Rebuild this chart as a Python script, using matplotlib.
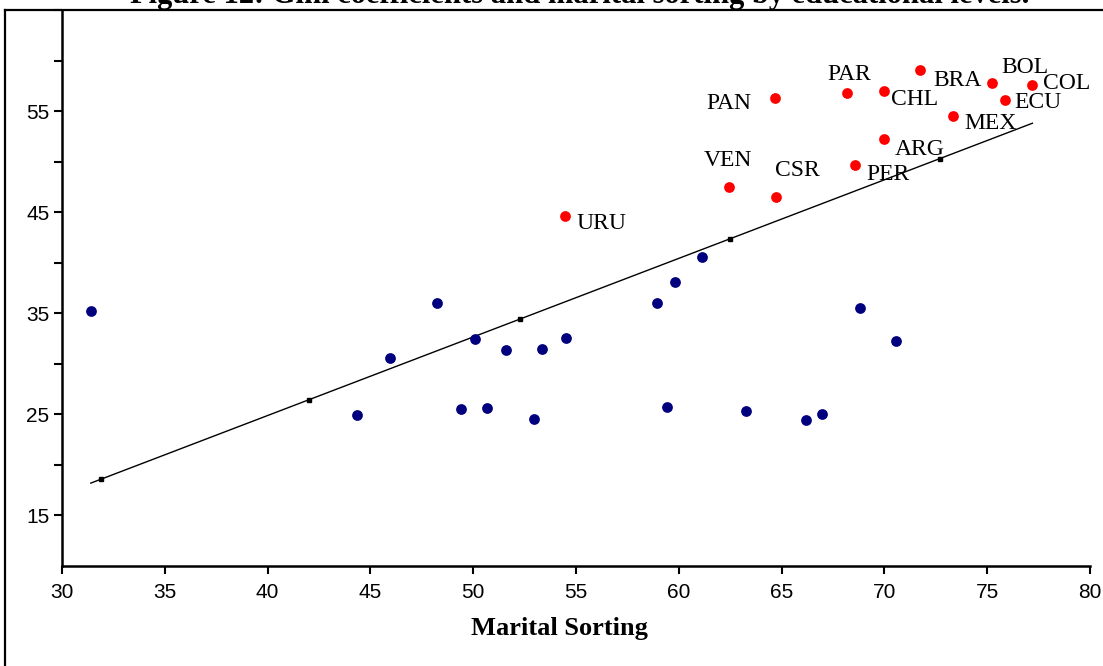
import matplotlib
matplotlib.use("Agg")
import matplotlib.pyplot as plt
from matplotlib.lines import Line2D
import numpy as np

# ---- data ----
blue_x = [31.4, 44.35, 45.95, 48.24, 49.4, 50.1, 50.67, 51.6, 52.96, 53.35, 54.5,
          58.94, 59.43, 59.8, 61.13, 63.27, 66.19, 66.97, 68.8, 70.56]
blue_y = [35.2, 24.9, 30.6, 36.0, 25.5, 32.5, 25.6, 31.4, 24.5, 31.5, 32.6,
          36.0, 25.7, 38.1, 40.6, 25.3, 24.4, 25.0, 35.5, 32.3]

red_names = ["URU", "VEN", "CSR", "PAN", "PAR", "CHL", "ARG", "PER", "BRA", "MEX", "BOL", "COL", "ECU"]
red_x = [54.47, 62.44, 64.73, 64.68, 68.2, 69.98, 69.98, 68.55, 71.75, 73.33, 75.22, 77.18, 75.85]
red_y = [44.6, 47.5, 46.5, 56.3, 56.8, 57.0, 52.2, 49.7, 59.1, 54.5, 57.8, 57.6, 56.1]

fit_x = [31.4, 77.2]
fit_y = [18.2, 53.8]
fit_mark_x = [31.9, 42.0, 52.3, 62.5, 72.7]

x_ticks = [30, 35, 40, 45, 50, 55, 60, 65, 70, 75, 80]
y_ticks = [15, 25, 35, 45, 55]
y_minor = [20, 30, 40, 50, 60, 65]

title = "Figure 12: Gini coefficients and marital sorting by educational levels."
xlabel = "Marital Sorting"

# label offsets (points) relative to each red point
label_off = {
    "URU": (26, -5), "VEN": (-1, 19), "CSR": (15, 19), "PAN": (-33, -4),
    "PAR": (1, 13), "CHL": (22, -6), "ARG": (26, -7), "PER": (24, -7),
    "BRA": (27, -8), "MEX": (27, -5), "BOL": (24, 11), "COL": (25, 1),
    "ECU": (24, -2),
}

W, H = 1103, 666
fig = plt.figure(figsize=(W / 100, H / 100), dpi=100)
ax = fig.add_axes([62 / W, 1 - 566 / H, (1090 - 62) / W, (566 - 10) / H])

serif = ["Liberation Serif", "DejaVu Serif"]
narrow = ["Liberation Sans Narrow", "Liberation Sans", "DejaVu Sans"]

ax.plot(fit_x, fit_y, color="black", lw=1.0, zorder=2)
fit_mark_y = np.interp(fit_mark_x, fit_x, fit_y)
ax.plot(fit_mark_x, fit_mark_y, ls="none", marker="s", ms=2.5, color="black", zorder=2)

ax.scatter(blue_x, blue_y, s=60, color="#00007f", zorder=3, linewidths=0)
ax.scatter(red_x, red_y, s=60, color="#ff0000", zorder=3, linewidths=0)

for n, x, y in zip(red_names, red_x, red_y):
    dx, dy = label_off[n]
    ax.annotate(n, (x, y), xytext=(dx, dy), textcoords="offset points",
                ha="center", va="center", fontsize=17, family=serif, color="black", zorder=4)

ax.set_xlim(30, 80)
ax.set_ylim(10, 65)
ax.set_xticks(x_ticks)
ax.set_xticklabels([str(t) for t in x_ticks], family=narrow, fontsize=15)
ax.set_yticks(y_ticks)
ax.set_yticklabels([str(t) for t in y_ticks], family=narrow, fontsize=15)
ax.set_yticks(y_minor, minor=True)
ax.tick_params(axis="both", which="both", direction="out", length=6, width=1.5, colors="black")
ax.tick_params(axis="x", pad=6)
ax.tick_params(axis="y", pad=3)

for s in ["top", "right"]:
    ax.spines[s].set_visible(False)
for s in ["left", "bottom"]:
    ax.spines[s].set_linewidth(1.8)

ax.set_xlabel(xlabel, family=serif, fontsize=19, fontweight="bold")
ax.xaxis.set_label_coords((559 - 62) / 1028, -(617 - 566) / 556)

# figure frame
fig.add_artist(Line2D([5 / W, 1.0], [1 - 10 / H, 1 - 10 / H], transform=fig.transFigure,
                      color="black", lw=1.6))
fig.add_artist(Line2D([5 / W, 5 / W], [0, 1 - 10 / H], transform=fig.transFigure,
                      color="black", lw=1.6))

fig.text(580 / W, 1 - 2.5 / H, title, ha="center", va="baseline", family=serif,
         fontsize=22, fontweight="bold")

fig.savefig("out.png", dpi=100)
